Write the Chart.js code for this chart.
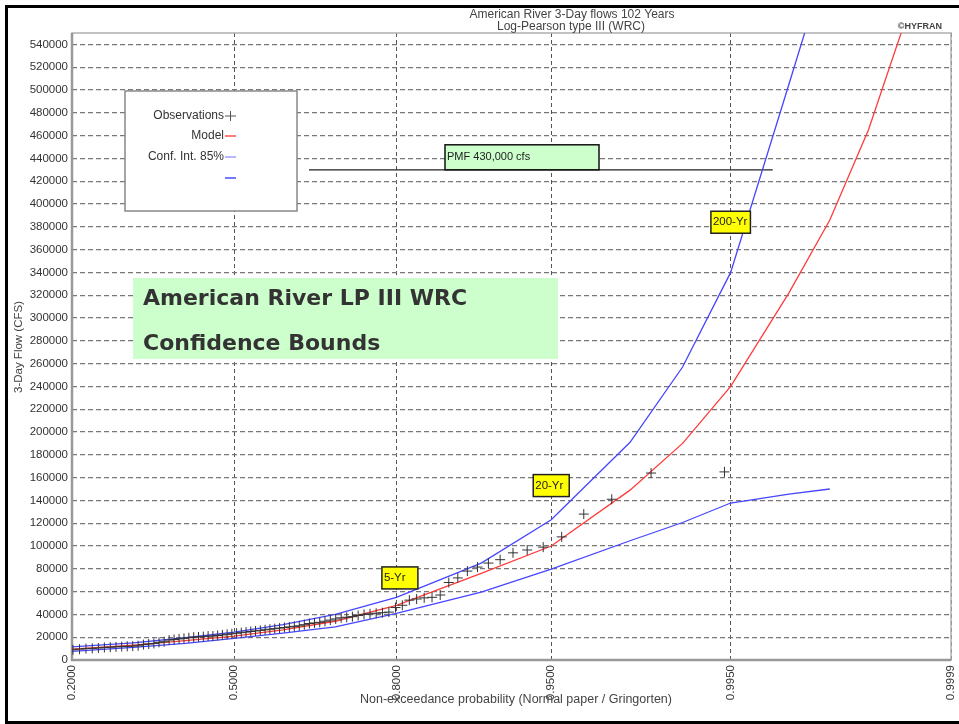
<!DOCTYPE html>
<html>
<head>
<meta charset="utf-8">
<script src="https://cdn.jsdelivr.net/npm/chart.js@4/dist/chart.umd.min.js"></script>
<style>
  html, body { margin: 0; padding: 0; background: #fff; }
  #wrap { width: 959px; height: 724px; position: relative; }
</style>
</head>
<body>
<div id="wrap"><canvas id="freqChart" width="959" height="724"></canvas></div>
<script>
// --- data ---
const tickProbs = [0.2, 0.5, 0.8, 0.95, 0.995, 0.9999];
const tickLabels = ['0.2000', '0.5000', '0.8000', '0.9500', '0.9950', '0.9999'];
const yTicks = [0, 20000, 40000, 60000, 80000, 100000, 120000, 140000, 160000, 180000,
    200000, 220000, 240000, 260000, 280000, 300000, 320000, 340000, 360000, 380000,
    400000, 420000, 440000, 460000, 480000, 500000, 520000, 540000];

// model + confidence curves (non-exceedance prob -> 3-day flow, cfs)
const curveProbs = [0.2, 0.3, 0.4, 0.5, 0.6, 0.7, 0.8, 0.9, 0.95, 0.98, 0.99, 0.995, 0.998, 0.999, 0.9995, 0.9998];
const modelFlow = [9500, 13000, 17000, 21000, 26500, 34000, 48000, 76000, 100000, 149000, 190000, 240000, 322000, 386000, 465000, 590000];
const upperFlow = [11500, 15000, 19500, 24500, 31000, 40000, 55000, 85000, 123000, 191000, 257000, 340000, 505000, 622000];
const lowerFlow = [7500, 11000, 14500, 19000, 23500, 29000, 41000, 59600, 79800, 104600, 120600, 137700, 145500, 150000];

// sorted observations, ranks 21..102 of 102 years (lower ranks fall left of 0.2)
const nYears = 102;
const firstRank = 21;
const obsFlow = [
  9000, 9500, 10000, 10200, 10500, 11000, 11200, 11500, 11800, 12000,
  12200, 12500, 13500, 14000, 14500, 15500, 16000, 17500, 18000, 18500,
  19000, 19500, 20000, 20200, 20500, 21000, 21000, 21500, 22000, 22500,
  23000, 23500, 24000, 24500, 25000, 25500, 26000, 26500, 27000, 27500,
  28000, 28500, 29000, 29500, 30000, 31000, 32000, 32500, 33000, 34000,
  35000, 36000, 37000, 37500, 38000, 39000, 40000, 40500, 41000, 41500,
  42000, 46000, 48000, 52500, 53500, 54500, 55000, 57000, 68000, 72000,
  78000, 81500, 85000, 88000, 94000, 96500, 99000, 108000, 128000, 141000,
  164000, 165000
];

// return-period tags and PMF line
const tagText = ['5-Yr', '20-Yr', '200-Yr'];
const tagProb = [0.805, 0.95, 0.995];
const tagFlow = [72000, 153000, 384000];
const pmfFlow = 430000;
const pmfProbRange = [0.651, 0.9974];

// inverse normal cdf (Acklam) -> normal probability paper
function probit(p) {
    const a = [-3.969683028665376e+01, 2.209460984245205e+02, -2.759285104469687e+02, 1.383577518672690e+02, -3.066479806614716e+01, 2.506628277459239e+00];
    const b = [-5.447609879822406e+01, 1.615858368580409e+02, -1.556989798598866e+02, 6.680131188771972e+01, -1.328068155288572e+01];
    const c = [-7.784894002430293e-03, -3.223964580411365e-01, -2.400758277161838e+00, -2.549732539343734e+00, 4.374664141464968e+00, 2.938163982698783e+00];
    const d = [7.784695709041462e-03, 3.224671290700398e-01, 2.445134137142996e+00, 3.754408661907416e+00];
    const pl = 0.02425;
    if (p < pl) {
        const q = Math.sqrt(-2 * Math.log(p));
        return (((((c[0]*q+c[1])*q+c[2])*q+c[3])*q+c[4])*q+c[5]) / ((((d[0]*q+d[1])*q+d[2])*q+d[3])*q+1);
    }
    if (p <= 1 - pl) {
        const q = p - 0.5, r = q * q;
        return (((((a[0]*r+a[1])*r+a[2])*r+a[3])*r+a[4])*r+a[5])*q / (((((b[0]*r+b[1])*r+b[2])*r+b[3])*r+b[4])*r+1);
    }
    const q = Math.sqrt(-2 * Math.log(1 - p));
    return -(((((c[0]*q+c[1])*q+c[2])*q+c[3])*q+c[4])*q+c[5]) / ((((d[0]*q+d[1])*q+d[2])*q+d[3])*q+1);
}

const toPoints = (probs, flows) => flows.map((v, i) => ({ x: probit(probs[i]), y: v }));
const obsPoints = obsFlow.map((v, i) => {
    const rank = firstRank + i;
    return { x: probit((rank - 0.44) / (nYears + 0.12)), y: v };
});

const FONT = '"Liberation Sans", Arial, sans-serif';

const overlay = {
    id: 'overlay',
    beforeDatasetsDraw(chart) {
        const ctx = chart.ctx;
        const xs = chart.scales.x, ys = chart.scales.y;
        const area = chart.chartArea;
        ctx.save();

        // plot frame
        ctx.strokeStyle = '#b0b0b0';
        ctx.lineWidth = 1.5;
        ctx.strokeRect(area.left, area.top, area.right - area.left, area.bottom - area.top);
        ctx.strokeStyle = '#999';
        ctx.lineWidth = 2.5;
        ctx.beginPath();
        ctx.moveTo(area.left, area.top);
        ctx.lineTo(area.left, area.bottom);
        ctx.lineTo(area.right, area.bottom);
        ctx.stroke();

        // legend box
        ctx.fillStyle = '#fff';
        ctx.fillRect(125, 91, 172, 120);
        ctx.strokeStyle = '#888';
        ctx.lineWidth = 1.5;
        ctx.strokeRect(125, 91, 172, 120);
        ctx.font = '12px ' + FONT;
        ctx.fillStyle = '#333';
        ctx.textAlign = 'right';
        ctx.textBaseline = 'middle';
        ctx.fillText('Observations', 224, 116);
        ctx.fillText('Model', 224, 136);
        ctx.fillText('Conf. Int. 85%', 224, 157);
        ctx.strokeStyle = '#555';
        ctx.lineWidth = 1;
        ctx.beginPath();
        ctx.moveTo(225, 116); ctx.lineTo(236, 116);
        ctx.moveTo(230.5, 111); ctx.lineTo(230.5, 121);
        ctx.stroke();
        ctx.lineWidth = 1.5;
        ctx.strokeStyle = '#ff5050';
        ctx.beginPath(); ctx.moveTo(225, 136); ctx.lineTo(236, 136); ctx.stroke();
        ctx.strokeStyle = '#a0a0ff';
        ctx.beginPath(); ctx.moveTo(225, 157); ctx.lineTo(236, 157); ctx.stroke();
        ctx.strokeStyle = '#4a4aff';
        ctx.beginPath(); ctx.moveTo(225, 178); ctx.lineTo(236, 178); ctx.stroke();

        // PMF line and tag
        const pmfY = ys.getPixelForValue(pmfFlow);
        const pmfX0 = xs.getPixelForValue(probit(pmfProbRange[0]));
        const pmfX1 = xs.getPixelForValue(probit(pmfProbRange[1]));
        ctx.strokeStyle = '#222';
        ctx.lineWidth = 1.2;
        ctx.beginPath(); ctx.moveTo(pmfX0, pmfY); ctx.lineTo(pmfX1, pmfY); ctx.stroke();
        ctx.fillStyle = '#ccffcc';
        ctx.fillRect(445, pmfY - 25, 154, 25);
        ctx.strokeStyle = '#111';
        ctx.lineWidth = 1.5;
        ctx.strokeRect(445, pmfY - 25, 154, 25);
        ctx.fillStyle = '#222';
        ctx.textAlign = 'left';
        ctx.font = '11px ' + FONT;
        ctx.fillText('PMF 430,000 cfs', 447, pmfY - 13);

        // big caption box
        ctx.fillStyle = '#ccffcc';
        ctx.fillRect(133, 278, 425, 81);
        ctx.fillStyle = '#333';
        ctx.textBaseline = 'alphabetic';
        ctx.font = 'bold 22px "DejaVu Sans", Verdana, sans-serif';
        ctx.fillText('American River LP III WRC', 143, 305);
        ctx.fillText('Confidence Bounds', 143, 350);
        ctx.restore();
    },
    afterDatasetsDraw(chart) {
        const ctx = chart.ctx;
        const xs = chart.scales.x, ys = chart.scales.y;
        ctx.save();
        ctx.font = '11.5px ' + FONT;
        ctx.textAlign = 'left';
        ctx.textBaseline = 'middle';
        tagText.forEach((t, i) => {
            const cx = xs.getPixelForValue(probit(tagProb[i]));
            const cy = ys.getPixelForValue(tagFlow[i]);
            const w = ctx.measureText(t).width + 5;
            const bw = Math.max(w, 36);
            ctx.fillStyle = '#ffff00';
            ctx.fillRect(cx - bw / 2, cy - 11, bw, 22);
            ctx.strokeStyle = '#222';
            ctx.lineWidth = 1.5;
            ctx.strokeRect(cx - bw / 2, cy - 11, bw, 22);
            ctx.fillStyle = '#222';
            ctx.fillText(t, cx - bw / 2 + 2, cy);
        });
        ctx.restore();
    },
    afterDraw(chart) {
        const ctx = chart.ctx;
        ctx.save();
        ctx.fillStyle = '#444';
        ctx.textAlign = 'center';
        ctx.textBaseline = 'middle';
        ctx.font = '12px ' + FONT;
        ctx.fillText('American River 3-Day flows 102 Years', 572, 15);
        ctx.fillText('Log-Pearson type III (WRC)', 571, 27);
        ctx.font = 'bold 9px ' + FONT;
        ctx.textAlign = 'right';
        ctx.fillText('\u00a9HYFRAN', 942, 27);
        ctx.font = '12.5px ' + FONT;
        ctx.textAlign = 'center';
        ctx.fillText('Non-exceedance probability (Normal paper / Gringorten)', 516, 700);
        ctx.font = '11.5px ' + FONT;
        ctx.translate(19, 347);
        ctx.rotate(-Math.PI / 2);
        ctx.fillText('3-Day Flow (CFS)', 0, 0);
        ctx.restore();

        // outer black frame
        ctx.save();
        ctx.strokeStyle = '#000';
        ctx.lineWidth = 3;
        ctx.beginPath();
        ctx.moveTo(970, 6.5);
        ctx.lineTo(6.5, 6.5);
        ctx.lineTo(6.5, 722.5);
        ctx.lineTo(970, 722.5);
        ctx.stroke();
        ctx.restore();
    }
};

new Chart(document.getElementById('freqChart').getContext('2d'), {
    type: 'scatter',
    data: {
        datasets: [
            {
                label: 'Observations',
                data: obsPoints,
                pointStyle: 'cross',
                pointRadius: 5,
                borderColor: '#333',
                borderWidth: 1,
                showLine: false
            },
            {
                label: 'Model',
                data: toPoints(curveProbs, modelFlow),
                showLine: true,
                borderColor: '#ff3b3b',
                borderWidth: 1.3,
                pointRadius: 0
            },
            {
                label: 'Conf. Int. 85%',
                data: toPoints(curveProbs, upperFlow),
                showLine: true,
                borderColor: '#4646ff',
                borderWidth: 1.3,
                pointRadius: 0
            },
            {
                label: '',
                data: toPoints(curveProbs, lowerFlow),
                showLine: true,
                borderColor: '#4646ff',
                borderWidth: 1.3,
                pointRadius: 0
            }
        ]
    },
    options: {
        responsive: false,
        animation: false,
        layout: { padding: { left: 0, top: 33, right: 8, bottom: 0 } },
        plugins: { legend: { display: false }, tooltip: { enabled: false } },
        scales: {
            x: {
                type: 'linear',
                min: probit(tickProbs[0]),
                max: probit(tickProbs[tickProbs.length - 1]),
                afterBuildTicks: (scale) => {
                    scale.ticks = tickProbs.map(p => ({ value: probit(p) }));
                },
                afterFit: (scale) => {
                    scale.height = 64;
                    scale.paddingLeft = 0;
                    scale.paddingRight = 0;
                },
                ticks: {
                    autoSkip: false,
                    minRotation: 90,
                    maxRotation: 90,
                    padding: 5,
                    color: '#333',
                    font: { family: FONT, size: 11.5 },
                    callback: (value, index) => tickLabels[index]
                },
                grid: { color: '#555', lineWidth: 1, drawTicks: false },
                border: { display: false, dash: [4, 3] }
            },
            y: {
                min: 0,
                max: 550000,
                afterBuildTicks: (scale) => {
                    scale.ticks = yTicks.map(v => ({ value: v }));
                },
                afterFit: (scale) => {
                    scale.width = 72;
                    scale.paddingTop = 0;
                    scale.paddingBottom = 0;
                },
                ticks: {
                    autoSkip: false,
                    padding: 4,
                    color: '#333',
                    font: { family: FONT, size: 11.5 },
                    callback: (value) => String(value)
                },
                grid: { color: '#777', lineWidth: 1.3, drawTicks: false },
                border: { display: false, dash: [5, 3] }
            }
        }
    },
    plugins: [overlay]
});
</script>
</body>
</html>
